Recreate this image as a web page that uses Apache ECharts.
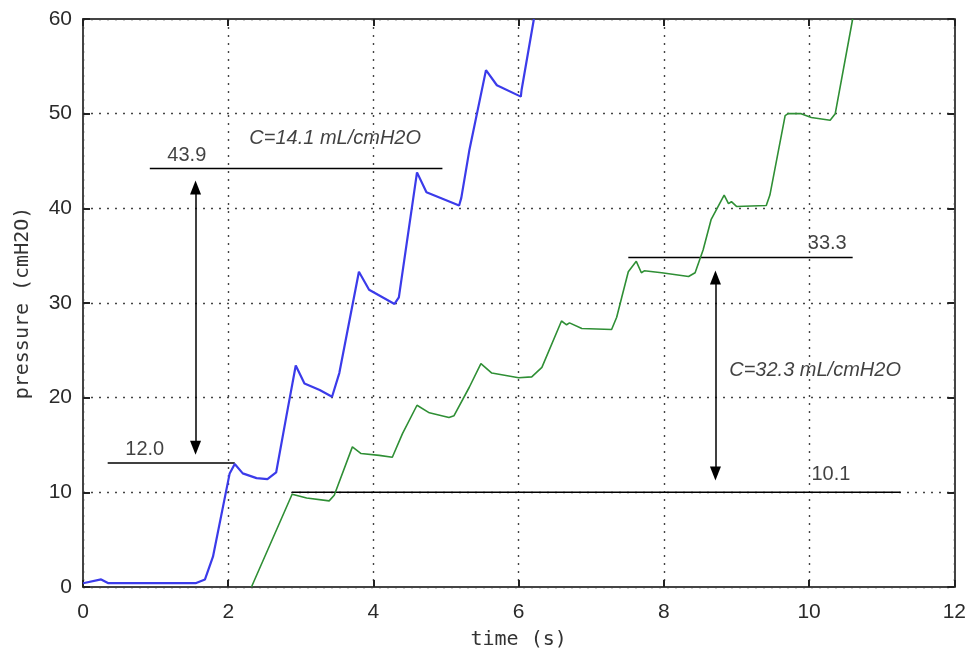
<!DOCTYPE html>
<html>
<head>
<meta charset="utf-8">
<script src="https://cdn.jsdelivr.net/npm/echarts@6/dist/echarts.min.js"></script>
<style>
html,body{margin:0;padding:0;background:#fff;}
#chart{width:969px;height:660px;}
</style>
</head>
<body>
<div id="chart"></div>
<script>
// ---- data ----
var xTicks = [0, 2, 4, 6, 8, 10, 12];
var yTicks = [0, 10, 20, 30, 40, 50, 60];

var blueTime = [0, 0.25, 0.35, 1.55, 1.68, 1.79, 2.02, 2.09, 2.2, 2.39, 2.54, 2.66, 2.8, 2.93, 3.05, 3.26, 3.43, 3.53, 3.8, 3.94, 4.29, 4.35, 4.6, 4.73, 5.18, 5.21, 5.32, 5.55, 5.7, 6.03, 6.04, 6.21];
var bluePressure = [0.4, 0.8, 0.4, 0.4, 0.8, 3.2, 12.0, 13.0, 12.0, 11.5, 11.4, 12.1, 18.0, 23.4, 21.5, 20.8, 20.1, 22.6, 33.3, 31.4, 29.9, 30.6, 43.8, 41.7, 40.3, 41.1, 46.1, 54.6, 53.0, 51.8, 52.5, 60];

var greenTime = [2.32, 2.88, 3.08, 3.39, 3.46, 3.71, 3.83, 4.08, 4.26, 4.40, 4.60, 4.77, 5.04, 5.11, 5.32, 5.48, 5.63, 6.0, 6.18, 6.32, 6.59, 6.66, 6.7, 6.87, 7.28, 7.35, 7.42, 7.51, 7.62, 7.69, 7.73, 7.97, 8.34, 8.43, 8.54, 8.65, 8.72, 8.83, 8.89, 8.93, 9.0, 9.41, 9.46, 9.67, 9.71, 9.89, 10.03, 10.29, 10.36, 10.6];
var greenPressure = [0, 9.8, 9.4, 9.1, 9.7, 14.8, 14.1, 13.9, 13.7, 16.2, 19.2, 18.4, 17.9, 18.1, 21.1, 23.6, 22.6, 22.1, 22.2, 23.2, 28.1, 27.7, 27.9, 27.3, 27.2, 28.5, 30.6, 33.3, 34.4, 33.2, 33.4, 33.2, 32.8, 33.2, 35.6, 38.8, 39.8, 41.4, 40.5, 40.7, 40.2, 40.3, 41.4, 49.8, 50.0, 50.0, 49.6, 49.3, 50.0, 60];

// reference levels: [startTime, endTime, pressure]
var refLines = [
  [0.34, 2.09, 13.1],
  [0.92, 4.95, 44.2],
  [7.51, 10.6, 34.8],
  [2.88, 11.26, 10.0]
];
// double arrows: [time, topPressure, bottomPressure]
var arrows = [
  [1.55, 42.2, 14.7],
  [8.71, 32.7, 12.0]
];
// numeric / text annotations
var annotText = ['43.9', '12.0', '33.3', '10.1'];
var annotTime = [1.43, 0.85, 10.25, 10.3];
var annotPressure = [45.6, 14.5, 36.3, 11.9];
var complianceText = ['C=14.1 mL/cmH2O', 'C=32.3 mL/cmH2O'];
var complianceTime = [2.29, 8.9];
var compliancePressure = [47.4, 22.9];

function zip(a, b) { return a.map(function (v, i) { return [v, b[i]]; }); }

var series = [];
series.push({
  type: 'line', data: zip(blueTime, bluePressure), showSymbol: false, symbol: 'none',
  lineStyle: { color: '#3b3bea', width: 2.2 }, z: 5
});
series.push({
  type: 'line', data: zip(greenTime, greenPressure), showSymbol: false, symbol: 'none',
  lineStyle: { color: '#2f8f35', width: 1.6 }, z: 5
});
refLines.forEach(function (r) {
  series.push({
    type: 'line', data: [[r[0], r[2]], [r[1], r[2]]], symbol: 'none',
    lineStyle: { color: '#000', width: 1.5 }, z: 4
  });
});
series.push({
  type: 'scatter', data: [], symbolSize: 0,
  markLine: {
    silent: true, symbol: ['triangle', 'triangle'], symbolSize: [11, 14],
    label: { show: false },
    lineStyle: { color: '#000', width: 1.5, type: 'solid' },
    data: arrows.map(function (a) { return [{ coord: [a[0], a[1]] }, { coord: [a[0], a[2]] }]; })
  }
});
series.push({
  type: 'scatter', symbolSize: 0, z: 6,
  data: annotText.map(function (t, i) { return { value: [annotTime[i], annotPressure[i]], name: t }; }),
  label: {
    show: true, formatter: '{b}', position: [0, 0], align: 'center', verticalAlign: 'middle',
    fontFamily: 'Liberation Sans, Arial', fontSize: 20, color: '#111'
  }
});
series.push({
  type: 'scatter', symbolSize: 0, z: 6,
  data: complianceText.map(function (t, i) { return { value: [complianceTime[i], compliancePressure[i]], name: t }; }),
  label: {
    show: true, formatter: '{b}', position: [0, 0], align: 'left', verticalAlign: 'middle',
    fontFamily: 'Liberation Sans, Arial', fontStyle: 'italic', fontSize: 20, color: '#111'
  }
});

var gridLine = { show: true, lineStyle: { color: '#444', width: 1.4, type: [2, 6] } };
var axisLine = { show: true, onZero: false, lineStyle: { color: '#444', width: 2 } };
var tick = { show: true, inside: true, length: 7, lineStyle: { color: '#222', width: 2 } };
var labelFont = { fontFamily: 'Liberation Sans, Arial', fontSize: 21, color: '#2a2a2a' };

var chart = echarts.init(document.getElementById('chart'), null, { renderer: 'canvas' });
chart.setOption({
  animation: false,
  backgroundColor: '#fff',
  grid: { left: 83, right: 13, top: 19, bottom: 73, containLabel: false },
  xAxis: [{
    type: 'value', min: xTicks[0], max: xTicks[xTicks.length - 1], interval: 2,
    name: 'time (s)', nameLocation: 'middle', nameGap: 43,
    nameTextStyle: { fontFamily: 'DejaVu Sans Mono', fontSize: 20, color: '#333' },
    axisLine: axisLine, axisTick: tick, splitLine: gridLine,
    axisLabel: Object.assign({ margin: 15 }, labelFont)
  }, {
    type: 'value', position: 'top', min: 0, max: 12, interval: 2,
    axisLine: axisLine, axisTick: tick, splitLine: { show: false }, axisLabel: { show: false }
  }],
  yAxis: [{
    type: 'value', min: yTicks[0], max: yTicks[yTicks.length - 1], interval: 10,
    name: 'pressure (cmH2O)', nameLocation: 'middle', nameGap: 50,
    nameTextStyle: { fontFamily: 'DejaVu Sans Mono', fontSize: 20, color: '#333' },
    axisLine: axisLine, axisTick: tick, splitLine: gridLine,
    axisLabel: Object.assign({ margin: 11 }, labelFont)
  }, {
    type: 'value', position: 'right', min: 0, max: 60, interval: 10,
    axisLine: axisLine, axisTick: tick, splitLine: { show: false }, axisLabel: { show: false }
  }],
  series: series
});
</script>
</body>
</html>
